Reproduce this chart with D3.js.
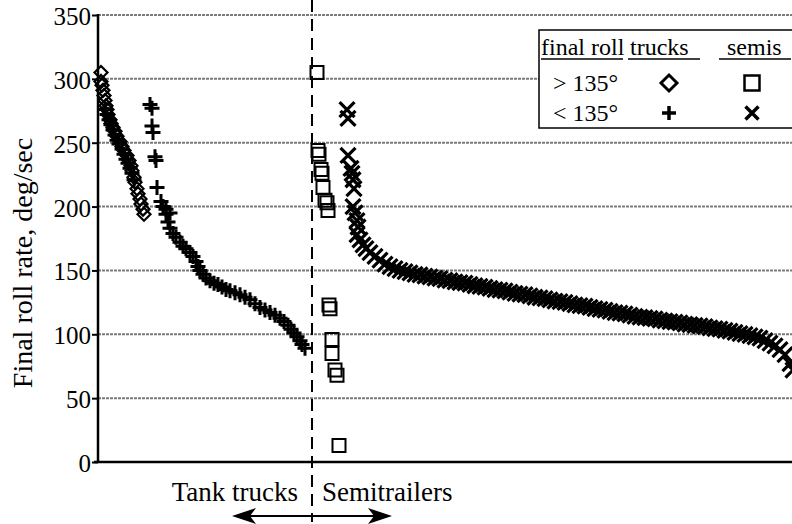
<!DOCTYPE html>
<html>
<head>
<meta charset="utf-8">
<script src="https://cdn.jsdelivr.net/npm/d3@7"></script>
<style>
  body { margin: 0; background: #fff; }
  svg { display: block; font-family: "Liberation Serif", "Times New Roman", serif; }
</style>
</head>
<body>
<div id="chart"></div>
<script>
// ranks run left to right in sort order; rate is deg/sec
var yTicks = [0, 50, 100, 150, 200, 250, 300, 350];

// tank trucks, final roll > 135 deg
var truckOver = [[3,305],[3,298],[4,295],[5,291],[6,287],[7,283],[8,279],[9,276],[10,272],[12,268],
  [13,265],[15,262],[17,259],[19,255],[22,251],[24,247],[26,244],[29,240],[31,236],[33,232],
  [34,228],[36,223],[37,219],[39,214],[40,210],[42,206],[43,202],[45,198],[46,194]];

// tank trucks, final roll < 135 deg
var truckUnder = [[7,276],[9,272],[11,268],[13,264],[15,260],[17,256],[19,252],[21,249],[24,245],
  [26,241],[28,237],[30,234],[32,230],[34,226],[36,221],
  [52,280],[54,277],[54,263],[55,258],[57,239],[58,236],[59,215],[63,204],[68,198],[72,195],
  [65,200],[68,194],[70,188],[72,183],[75,179],[78,176],[82,172],[85,169],[88,167],[92,164],
  [95,161],[98,157],[100,153],[102,150],[105,147],[108,144],[112,142],[116,140],[120,139],
  [124,137],[128,135],[132,134],[137,132.5],[142,131],[147,129],[152,127],[157,124],[162,121],
  [167,119],[172,117],[177,115],[182,112.5],[186,110],[190,107],[193,104],[196,101],[199,98],
  [202,95],[204,92],[207,89]];

// semitrailers, final roll > 135 deg
var semiOver = [[219,305],[220,244],[221,241],[223,229],[224,226],[225,215],[227,205],[229,203],
  [230,197],[231,123],[232,120],[234,96],[234,85],[237,72],[239,68],[241,13]];

// semitrailers, final roll < 135 deg
var semiUnder = [[249,276],[250,269],[250,240],[253,230],[254,226],[255,221],[256,214],[255,200],
  [257,195],[259,189],[260,184],
  [259,178],[262,174],[265,170],[268,167],[272,164],[277,161],[282,158],[287,155],[292,153],
  [297,151.5],[302,150],[307,149],[312,148],[317,147],[322,146.5],[327,145.5],[332,145],[337,144],
  [342,143.5],[347,142.5],[352,142],[357,141],[362,140.5],[367,140],[372,139],[377,138],[382,137.5],
  [387,137],[392,136],[397,135],[402,134.5],[407,134],[412,133],[417,132],[422,131.5],[427,131],
  [432,130],[437,129],[442,128.5],[447,128],[452,127],[457,126],[462,125.5],[467,125],[472,124],
  [477,123],[482,122.5],[487,122],[492,121],[497,120],[502,119.5],[507,119],[512,118],[517,117],
  [522,116.5],[527,116],[532,115],[537,114],[542,113.5],[547,113],[552,112.5],[557,112],[562,111],
  [567,110.5],[572,110],[577,109.5],[582,109],[587,108],[592,107.5],[597,107],[602,106.5],[607,106],
  [612,105],[617,104.5],[622,104],[627,103],[632,102.5],[637,101.5],[642,100.5],[647,100],[652,99],
  [657,98],[662,97],[667,95],[672,93],[677,91],[682,88],[687,84],[692,77],[695,72]];

var splitRank = 214;

var W = 792, H = 524;
var svg = d3.select('#chart').append('svg')
  .attr('width', W)
  .attr('height', H);

var x = d3.scaleLinear().domain([0, 700]).range([98, 798]);
var y = d3.scaleLinear().domain([0, 350]).range([462, 15]);

// gridlines
svg.append('g')
  .selectAll('line')
  .data(yTicks.filter(function(d) { return d > 0; }))
  .enter().append('line')
  .attr('x1', x(0)).attr('x2', W)
  .attr('y1', function(d) { return y(d); })
  .attr('y2', function(d) { return y(d); })
  .style('stroke', '#7a7a7a')
  .style('stroke-width', 2)
  .style('stroke-dasharray', '3,1');

// y axis
var yAxis = svg.append('g')
  .attr('transform', 'translate(' + x(0) + ',0)')
  .call(d3.axisLeft(y).tickValues(yTicks).tickSize(6).tickPadding(1).tickFormat(d3.format('d')));
yAxis.select('.domain').remove();
yAxis.selectAll('.tick line').style('stroke', '#000').style('stroke-width', 2);
yAxis.selectAll('.tick text')
  .style('font-family', '"Liberation Serif", serif')
  .style('font-size', '25px')
  .style('fill', '#000')
  .attr('dy', '0.38em');

svg.append('line')
  .attr('x1', x(0)).attr('x2', x(0))
  .attr('y1', y(350) - 1).attr('y2', y(0))
  .style('stroke', '#000').style('stroke-width', 2.5);
svg.append('line')
  .attr('x1', x(0) - 4).attr('x2', W)
  .attr('y1', y(0)).attr('y2', y(0))
  .style('stroke', '#000').style('stroke-width', 2.5);

// split between trucks and semis
svg.append('line')
  .attr('x1', x(splitRank)).attr('x2', x(splitRank))
  .attr('y1', 0).attr('y2', 522)
  .style('stroke', '#000')
  .style('stroke-width', 2)
  .style('stroke-dasharray', '12,7');

function diamond(s) { return 'M0,' + (-s) + 'L' + s + ',0L0,' + s + 'L' + (-s) + ',0Z'; }
function square(s) { return 'M' + (-s) + ',' + (-s) + 'H' + s + 'V' + s + 'H' + (-s) + 'Z'; }
function plus(s) { return 'M' + (-s) + ',0H' + s + 'M0,' + (-s) + 'V' + s; }
function cross(s) { return 'M' + (-s) + ',' + (-s) + 'L' + s + ',' + s + 'M' + s + ',' + (-s) + 'L' + (-s) + ',' + s; }

function drawSeries(data, path, width) {
  svg.append('g')
    .selectAll('path')
    .data(data)
    .enter().append('path')
    .attr('transform', function(d) { return 'translate(' + x(d[0]) + ',' + y(d[1]) + ')'; })
    .attr('d', path)
    .style('fill', 'none')
    .style('stroke', '#000')
    .style('stroke-width', width);
}

drawSeries(truckOver, diamond(6.5), 2.2);
drawSeries(truckUnder, plus(7.5), 3);
drawSeries(semiOver, square(6.5), 2);
drawSeries(semiUnder, cross(7.5), 3.2);

// y label
svg.append('text')
  .attr('transform', 'translate(32,263) rotate(-90)')
  .attr('text-anchor', 'middle')
  .style('font-size', '28px')
  .text('Final roll rate, deg/sec');

// group labels and arrows
svg.append('text')
  .attr('x', x(splitRank) - 14).attr('y', 501)
  .attr('text-anchor', 'end')
  .style('font-size', '27px')
  .text('Tank trucks');
svg.append('text')
  .attr('x', x(splitRank) + 10).attr('y', 501)
  .attr('text-anchor', 'start')
  .style('font-size', '27px')
  .text('Semitrailers');

var ay = 516, ax = x(splitRank);
svg.append('line')
  .attr('x1', ax - 70).attr('x2', ax + 70)
  .attr('y1', ay).attr('y2', ay)
  .style('stroke', '#000').style('stroke-width', 2.2);
svg.append('path')
  .attr('d', 'M' + (ax - 80) + ',' + ay + 'L' + (ax - 56) + ',' + (ay - 8) + 'L' + (ax - 62) + ',' + ay + 'L' + (ax - 56) + ',' + (ay + 8) + 'Z')
  .style('fill', '#000');
svg.append('path')
  .attr('d', 'M' + (ax + 80) + ',' + ay + 'L' + (ax + 56) + ',' + (ay - 8) + 'L' + (ax + 62) + ',' + ay + 'L' + (ax + 56) + ',' + (ay + 8) + 'Z')
  .style('fill', '#000');

// legend
var lg = svg.append('g').attr('transform', 'translate(539,30)');
lg.append('rect')
  .attr('width', 262).attr('height', 98)
  .style('fill', '#fff')
  .style('stroke', '#000')
  .style('stroke-width', 1.5);

var heads = [['final roll', 2, 82, 0], ['trucks', 89, 72, 2], ['semis', 180, 72, 8]];
lg.selectAll('text.head')
  .data(heads)
  .enter().append('text')
  .attr('class', 'head')
  .attr('x', function(d) { return d[1] + d[3]; })
  .attr('y', 25)
  .style('font-size', '24px')
  .text(function(d) { return d[0]; });
lg.selectAll('line.ul')
  .data(heads)
  .enter().append('line')
  .attr('class', 'ul')
  .attr('x1', function(d) { return d[1]; })
  .attr('x2', function(d) { return d[1] + d[2]; })
  .attr('y1', 29).attr('y2', 29)
  .style('stroke', '#000').style('stroke-width', 1.5);

lg.append('text').attr('x', 14).attr('y', 61).style('font-size', '24px').text('> 135°');
lg.append('text').attr('x', 14).attr('y', 91).style('font-size', '24px').text('< 135°');

lg.append('path').attr('transform', 'translate(130,53)').attr('d', diamond(8))
  .style('fill', 'none').style('stroke', '#000').style('stroke-width', 3);
lg.append('path').attr('transform', 'translate(213,53)').attr('d', square(7.5))
  .style('fill', 'none').style('stroke', '#000').style('stroke-width', 2.5);
lg.append('path').attr('transform', 'translate(130,83)').attr('d', plus(7))
  .style('fill', 'none').style('stroke', '#000').style('stroke-width', 3.5);
lg.append('path').attr('transform', 'translate(213,83)').attr('d', cross(6.5))
  .style('fill', 'none').style('stroke', '#000').style('stroke-width', 3.5);
</script>
</body>
</html>
